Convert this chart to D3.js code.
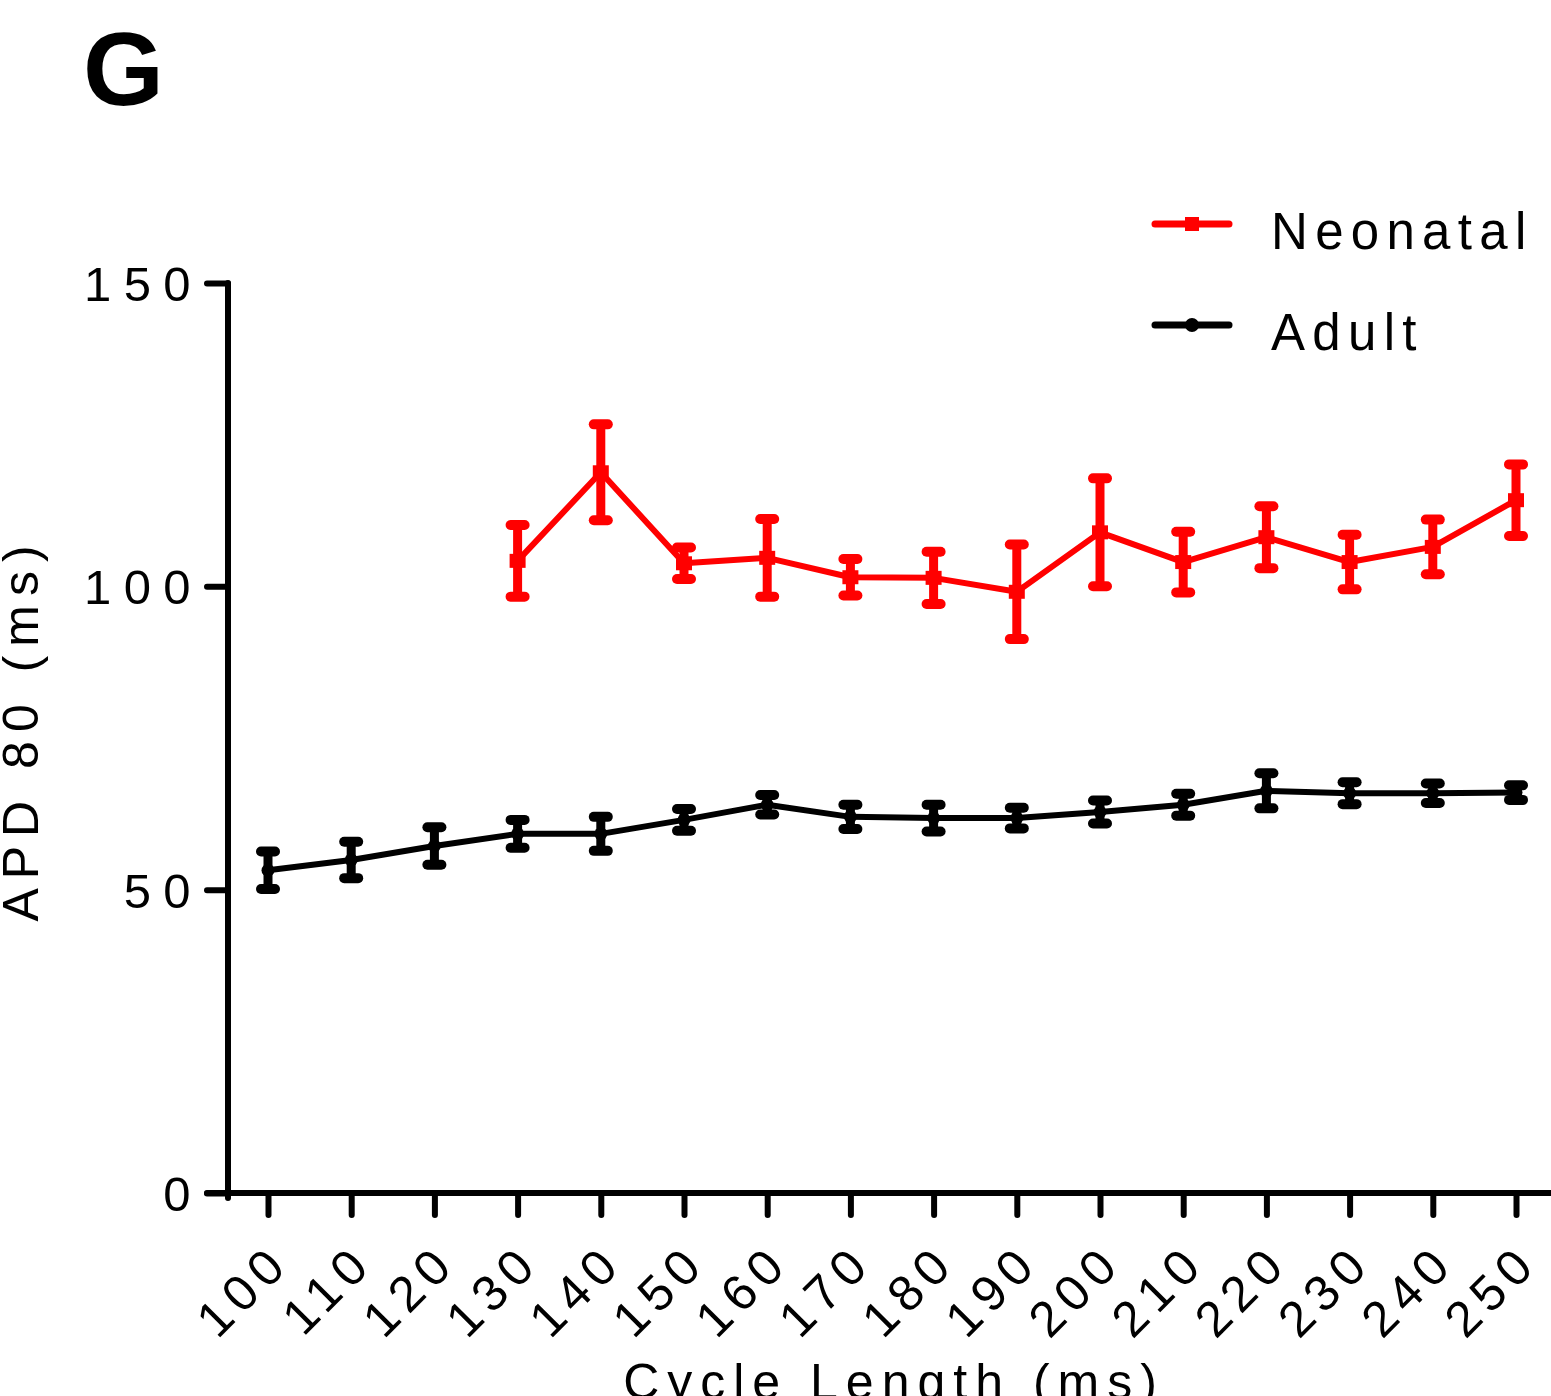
<!DOCTYPE html>
<html><head><meta charset="utf-8">
<script src="https://cdn.jsdelivr.net/npm/d3@7"></script>
<style>
html,body{margin:0;padding:0;background:#fff;}
svg{display:block;font-family:"Liberation Sans",Arial,sans-serif;}
</style></head>
<body>
<svg id="chart" width="1551" height="1396"></svg>
<script>
const cycleLengths = [100,110,120,130,140,150,160,170,180,190,200,210,220,230,240,250];
const neonatalX   = [130,140,150,160,170,180,190,200,210,220,230,240,250];
const neonatalMean= [104.2,118.8,103.8,104.7,101.5,101.4,99.1,108.9,104.0,108.1,104.0,106.5,114.2];
const neonatalErr = [5.9,7.9,2.6,6.4,3.0,4.3,7.8,8.9,5.0,5.1,4.5,4.5,5.9];
const adultX      = [100,110,120,130,140,150,160,170,180,190,200,210,220,230,240,250];
const adultMean   = [53.2,54.9,57.2,59.2,59.2,61.5,64.0,62.0,61.8,61.8,62.8,64.0,66.3,65.9,65.9,66.0];
const adultErr    = [3.1,3.0,3.1,2.3,2.8,1.8,1.6,2.0,2.2,1.7,1.9,1.8,2.9,1.8,1.6,1.2];
const yTicks = [0,50,100,150];
const seriesNames = ["Neonatal","Adult"];
const seriesColors = ["#ff0000","#000000"];

const svg = d3.select("#chart");
const x = d3.scaleLinear().domain([100,250]).range([268,1516]);
const y = d3.scaleLinear().domain([0,150]).range([1193,283]);

// panel letter
svg.append("text").attr("x",83).attr("y",105).attr("font-size",104).attr("font-weight","bold").text("G");

// axes
const yAxis = svg.append("g").attr("transform","translate(228,0)")
  .call(d3.axisLeft(y).tickValues(yTicks).tickSize(21).tickPadding(0).tickFormat(d3.format("d")));
yAxis.select(".domain").remove();
yAxis.selectAll(".tick line").attr("stroke","#000").attr("stroke-width",6).attr("stroke-linecap","round");
yAxis.selectAll(".tick text").attr("font-size",49).attr("letter-spacing",12.4).attr("x",-25).attr("dy","0.36em")
  .attr("font-family","Liberation Sans, Arial, sans-serif").attr("fill","#000");
svg.append("line").attr("x1",228).attr("x2",228).attr("y1",y(150)).attr("y2",1198).attr("stroke","#000").attr("stroke-width",6).attr("stroke-linecap","round");

const xAxis = svg.append("g").attr("transform","translate(0,1193)")
  .call(d3.axisBottom(x).tickValues(cycleLengths).tickSize(22).tickFormat(d3.format("d")));
xAxis.select(".domain").remove();
svg.append("line").attr("x1",207).attr("x2",1551).attr("y1",1193).attr("y2",1193).attr("stroke","#000").attr("stroke-width",6).attr("stroke-linecap","round");
xAxis.selectAll(".tick line").attr("stroke","#000").attr("stroke-width",6).attr("stroke-linecap","round");
xAxis.selectAll(".tick text").attr("font-size",50).attr("letter-spacing",7.6)
  .attr("font-family","Liberation Sans, Arial, sans-serif").attr("fill","#000")
  .attr("text-anchor","end").attr("y",0).attr("dy",0)
  .attr("transform","translate(24,72) rotate(-45)");

// axis titles
svg.append("text").attr("x",894).attr("y",1399).attr("text-anchor","middle").attr("font-size",50).attr("letter-spacing",8).text("Cycle Length (ms)");
svg.append("text").attr("transform","translate(38,729) rotate(-90)").attr("text-anchor","middle").attr("font-size",50).attr("letter-spacing",9).text("APD 80 (ms)");

function drawSeries(xs, means, errs, color, marker){
  const g = svg.append("g");
  const pts = xs.map((v,i)=>({x:v,m:means[i],e:errs[i]}));
  g.append("path").datum(pts).attr("fill","none").attr("stroke",color).attr("stroke-width",6).attr("stroke-linejoin","round")
    .attr("d",d3.line().x(d=>x(d.x)).y(d=>y(d.m)));
  const eb = g.selectAll(".eb").data(pts).enter().append("g");
  eb.append("line").attr("x1",d=>x(d.x)).attr("x2",d=>x(d.x)).attr("y1",d=>y(d.m+d.e)).attr("y2",d=>y(d.m-d.e))
    .attr("stroke",color).attr("stroke-width",9);
  [1,-1].forEach(s=>{
    eb.append("line").attr("x1",d=>x(d.x)-7).attr("x2",d=>x(d.x)+7).attr("y1",d=>y(d.m+s*d.e)).attr("y2",d=>y(d.m+s*d.e))
      .attr("stroke",color).attr("stroke-width",10).attr("stroke-linecap","round");
  });
  if(marker==="square"){
    eb.append("rect").attr("x",d=>x(d.x)-8).attr("y",d=>y(d.m)-7).attr("width",16).attr("height",14).attr("fill",color);
  } else {
    eb.append("circle").attr("cx",d=>x(d.x)).attr("cy",d=>y(d.m)).attr("r",6.5).attr("fill",color);
  }
}
drawSeries(adultX, adultMean, adultErr, seriesColors[1], "circle");
drawSeries(neonatalX, neonatalMean, neonatalErr, seriesColors[0], "square");

// legend
const legY = [224,325];
seriesNames.forEach((n,i)=>{
  const lg = svg.append("g");
  lg.append("line").attr("x1",1155).attr("x2",1229).attr("y1",legY[i]).attr("y2",legY[i]).attr("stroke",seriesColors[i]).attr("stroke-width",7).attr("stroke-linecap","round");
  if(i===0) lg.append("rect").attr("x",1185).attr("y",legY[i]-7).attr("width",14).attr("height",14).attr("fill",seriesColors[i]);
  else lg.append("circle").attr("cx",1192).attr("cy",legY[i]).attr("r",7).attr("fill",seriesColors[i]);
  lg.append("text").attr("x",1271).attr("y",legY[i]+25).attr("font-size",51).attr("letter-spacing",7.3).text(n);
});
</script>
</body></html>
